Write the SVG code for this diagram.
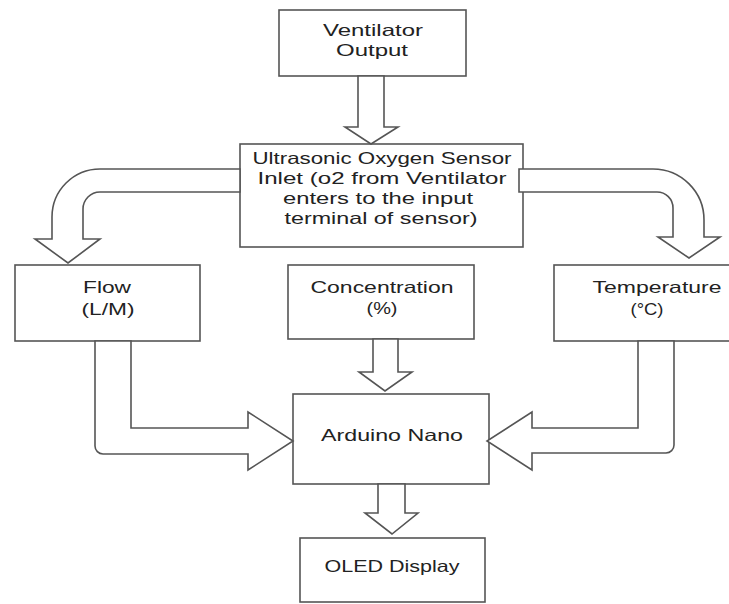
<svg xmlns="http://www.w3.org/2000/svg" width="729" height="604" viewBox="0 0 729 604">
<style>
.box{fill:#fff;stroke:#555;stroke-width:1.6}
.arr{fill:#fff;stroke:#555;stroke-width:1.6;stroke-linejoin:miter}
text{font-family:"Liberation Sans",Arial,sans-serif;font-size:16.5px;fill:#222;text-anchor:middle}
</style>
<rect width="729" height="604" fill="#fff"/>
<g id="ventilator"><rect class="box" x="279" y="10" width="187" height="66"/><text x="373" y="36" textLength="100" lengthAdjust="spacingAndGlyphs">Ventilator</text><text x="372" y="56" textLength="72" lengthAdjust="spacingAndGlyphs">Output</text></g>
<g id="sensor"><rect class="box" x="240" y="144" width="283" height="103"/><text x="382" y="164" textLength="259" lengthAdjust="spacingAndGlyphs">Ultrasonic Oxygen Sensor</text><text x="382" y="184" textLength="249" lengthAdjust="spacingAndGlyphs">Inlet (o2 from Ventilator</text><text x="378" y="204" textLength="190" lengthAdjust="spacingAndGlyphs">enters to the input</text><text x="381" y="224" textLength="193" lengthAdjust="spacingAndGlyphs">terminal of sensor)</text></g>
<g id="flow"><rect class="box" x="15" y="265" width="185" height="76"/><text x="107" y="293" textLength="48" lengthAdjust="spacingAndGlyphs">Flow</text><text x="108" y="315" textLength="53" lengthAdjust="spacingAndGlyphs">(L/M)</text></g>
<g id="concentration"><rect class="box" x="288" y="265" width="186" height="74"/><text x="382" y="293" textLength="143" lengthAdjust="spacingAndGlyphs">Concentration</text><text x="382" y="314" textLength="31" lengthAdjust="spacingAndGlyphs">(%)</text></g>
<g id="temperature"><rect class="box" x="554" y="265" width="180" height="76"/><text x="657" y="293" textLength="129" lengthAdjust="spacingAndGlyphs">Temperature</text><text x="647" y="315" textLength="33" lengthAdjust="spacingAndGlyphs">(°C)</text></g>
<g id="arduino"><rect class="box" x="293" y="394" width="196" height="90"/><text x="392" y="441" textLength="142" lengthAdjust="spacingAndGlyphs">Arduino Nano</text></g>
<g id="oled"><rect class="box" x="300" y="538" width="185" height="64"/><text x="392" y="572" textLength="135" lengthAdjust="spacingAndGlyphs">OLED Display</text></g>
<g id="connectors">
<polygon class="arr" points="358,76 384,76 384,127 398,127 371,144 345,127 358,127"/>
<path class="arr" d="M240,169 H100 A48,48 0 0 0 52,217 V239 H35 L68,263 L100,239 H83 V209 A17,17 0 0 1 100,192 H240 Z"/>
<path class="arr" d="M519,169 H653 A51,51 0 0 1 704,220 V237 H720 L689,258 L658,237 H673 V208 A16,16 0 0 0 657,192 H519 Z"/>
<polygon class="arr" points="373,339 398,339 398,372 412,372 385,391 359,372 373,372"/>
<path class="arr" d="M131,341 V428 H248 V412 L293,441 L248,470 V454 H103 A8,8 0 0 1 95,446 V341 Z"/>
<path class="arr" d="M638,341 V428 H532 V412 L487,441 L532,470 V453 H666 A8,8 0 0 0 674,445 V341 Z"/>
<polygon class="arr" points="378,484 405,484 405,513 418,513 392,534 365,513 378,513"/>
</g>
</svg>
